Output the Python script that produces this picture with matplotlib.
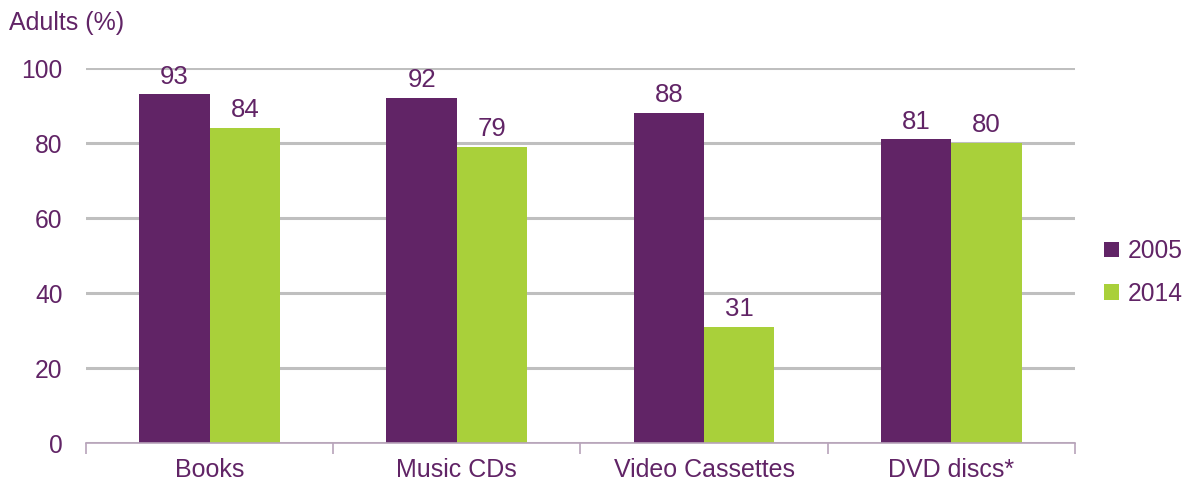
import matplotlib.pyplot as plt
import numpy as np

plt.rcParams['font.family'] = ['Liberation Sans', 'DejaVu Sans']

# dados do gráfico
categorias = ['Books', 'Music CDs', 'Video Cassettes', 'DVD discs*']
anos = ['2005', '2014']
v_2005 = [93, 92, 88, 81]
v_2014 = [84, 79, 31, 80]

roxo = '#612466'
verde = '#A9D03A'
texto = '#612466'

fig = plt.figure(figsize=(11.87, 4.84), dpi=100)
ax = fig.add_axes([0.0725, 0.0847, 0.833, 0.7748])

x = np.arange(len(categorias))
w = 0.285
b1 = ax.bar(x - w / 2, v_2005, w, color=roxo, label=anos[0], zorder=3)
b2 = ax.bar(x + w / 2, v_2014, w, color=verde, label=anos[1], zorder=3)

# rótulos acima das barras
for barras in (b1, b2):
    ax.bar_label(barras, padding=4, fontsize=18.5, color=texto)

ax.set_xlim(-0.5, len(categorias) - 0.5)
ax.set_ylim(0, 100)
ax.set_yticks([0, 20, 40, 60, 80, 100])
ax.yaxis.grid(True, color='#BFBFBF', linewidth=2.2, zorder=0)
ax.set_xticks(x)
ax.set_xticklabels(categorias)
ax.set_xticks(np.arange(-0.5, len(categorias)), minor=True)
ax.tick_params(axis='x', which='major', length=0, pad=11, labelsize=18, labelcolor=texto)
ax.tick_params(axis='x', which='minor', length=8, width=1.2, color='#B7A3BA')
ax.tick_params(axis='y', length=0, pad=17, labelsize=17.7, labelcolor=texto)

for lado in ['top', 'right', 'left']:
    ax.spines[lado].set_visible(False)
ax.spines['bottom'].set_color('#B7A3BA')
ax.spines['bottom'].set_linewidth(1.2)
ax.spines['bottom'].set_zorder(4)

fig.text(0.008, 0.952, 'Adults (%)', fontsize=18, color=texto, va='center', ha='left')

leg = ax.legend(loc='center left', bbox_to_anchor=(1.0, 0.455), frameon=False,
                fontsize=17.7, handlelength=0.6, handleheight=0.6, handletextpad=0.35,
                labelspacing=0.75, borderaxespad=0.8)
for t in leg.get_texts():
    t.set_color(texto)

fig.savefig('out.png', dpi=100)
